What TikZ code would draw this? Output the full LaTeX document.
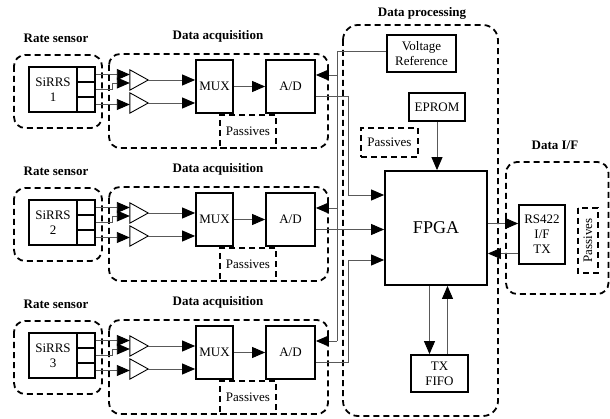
\documentclass[tikz,border=0pt]{standalone}
\usepackage{fontspec}
\setmainfont{Liberation Serif}
\usetikzlibrary{arrows.meta}

\tikzset{
  blk/.style={draw, line width=1.8pt, inner sep=0pt, align=center, font=\fontsize{13}{15}\selectfont},
  port/.style={draw, line width=1.8pt, minimum width=18pt, minimum height=15pt, inner sep=0pt},
  grp/.style={draw, line width=1.8pt, dash pattern=on 6pt off 4pt, rounded corners=11pt},
  pas/.style={draw, line width=1.8pt, dash pattern=on 6pt off 4pt, inner sep=0pt, font=\fontsize{13}{15}\selectfont},
  ttl/.style={font=\bfseries\fontsize{13}{15}\selectfont},
  sig/.style={draw=black!65, line width=0.9pt},
  arr/.style={sig, -{Triangle[length=13pt,width=11pt,color=black]}},
  ampbox/.style={minimum width=18pt, minimum height=20pt, inner sep=0pt},
}

\begin{document}
\begin{tikzpicture}[x=1pt,y=-1pt]
\useasboundingbox (0,0) rectangle (610,419);

% data processing
\draw[grp, rounded corners=15pt] (343,25) rectangle (498,416);
\node[ttl] (proclbl) at (422,13) {Data processing};
\node[blk, minimum width=69pt, minimum height=37pt] (vref) at (421.5,53.5) {Voltage\\Reference};
\node[blk, minimum width=56pt, minimum height=28pt] (eprom) at (437,107) {EPROM};
\node[pas, minimum width=57pt, minimum height=29pt] (ppas) at (389.5,142.5) {Passives};
\node[blk, minimum width=102pt, minimum height=114pt, font=\fontsize{18}{20}\selectfont] (fpga) at (436,228) {FPGA};
\node[blk, minimum width=57pt, minimum height=37pt] (fifo) at (439.5,373.5) {TX\\FIFO};

% data interface
\draw[grp] (506,162) rectangle (608.5,294);
\node[ttl] (iflbl) at (555,145) {Data I/F};
\node[blk, minimum width=46pt, minimum height=59pt] (rs) at (542,234.5) {RS422\\I/F\\TX};
\node[pas, minimum width=65pt, minimum height=20pt, rotate=90] (ipas) at (588,240.5) {Passives};

% sensor and acquisition rows
\foreach \r/\dy in {1/0,2/133,3/266}{
  \begin{scope}[shift={(0,\dy)}]
    \node[ttl] (rslbl\r) at (56,38) {Rate sensor};
    \draw[grp] (14,55) rectangle (102,128);
    \node[ttl] (acqlbl\r) at (218,36) {Data acquisition};
    \draw[grp] (109,54) rectangle (328,148);
    \node[blk, minimum width=48pt, minimum height=45pt] (sirrs\r) at (53,89.5) {SiRRS\\\r};
    \node[port] (pa\r) at (86,74.5) {};
    \node[port] (pb\r) at (86,89.5) {};
    \node[port] (pc\r) at (86,104.5) {};
    \node[ampbox] (ampa\r) at (139,80) {};
    \node[ampbox] (ampb\r) at (139,103) {};
    \draw[line width=0.9pt] (ampa\r.north west) -- (ampa\r.east) -- (ampa\r.south west) -- cycle;
    \draw[line width=0.9pt] (ampb\r.north west) -- (ampb\r.east) -- (ampb\r.south west) -- cycle;
    \node[blk, minimum width=37pt, minimum height=53pt] (mux\r) at (214.5,86.5) {MUX};
    \node[blk, minimum width=49pt, minimum height=53pt] (ad\r) at (290.5,86.5) {A/D};
    \node[pas, minimum width=56pt, minimum height=33pt] (apas\r) at (248,131.5) {Passives};
    \draw[arr] (pa\r.east) -- (pa\r.east -| ampa\r.west);
    \draw[arr] (pb\r.east) -| ([xshift=-17pt,yshift=-3pt]ampa\r.west) -- ([yshift=-3pt]ampa\r.west);
    \draw[arr] (pc\r.east) -- (pc\r.east -| ampb\r.west);
    \draw[arr] (ampa\r.east) -- (ampa\r.east -| mux\r.west);
    \draw[arr] (ampb\r.east) -- (ampb\r.east -| mux\r.west);
    \draw[arr] (mux\r.east) -- (ad\r.west);
    \coordinate (vtap\r) at (337,75);
    \draw[arr] (vtap\r) -- (vtap\r -| ad\r.east);
  \end{scope}
}

% reference bus and data lines
\draw[sig] ([yshift=2pt]vref.west) -| (vtap3);
\draw[arr] ([yshift=-10pt]ad1.east) -| ([xshift=-36pt,yshift=33pt]fpga.west) -- ([yshift=33pt]fpga.west);
\draw[arr] ([yshift=-10pt]ad2.east) -- ([yshift=-10pt]ad2.east -| fpga.west);
\draw[arr] ([yshift=-10pt]ad3.east) -| ([xshift=-36pt,yshift=-32pt]fpga.west) -- ([yshift=-32pt]fpga.west);

\draw[arr] (eprom.south) -- (eprom.south |- fpga.north);
\draw[arr] ([xshift=-10pt]fifo.north |- fpga.south) -- ([xshift=-10pt]fifo.north);
\draw[arr] ([xshift=8pt]fifo.north) -- ([xshift=8pt]fifo.north |- fpga.south);
\draw[arr] ([yshift=11pt]rs.west -| fpga.east) -- ([yshift=11pt]rs.west);
\draw[arr] ([yshift=-19pt]rs.west) -- ([yshift=-19pt]rs.west -| fpga.east);
\end{tikzpicture}
\end{document}
